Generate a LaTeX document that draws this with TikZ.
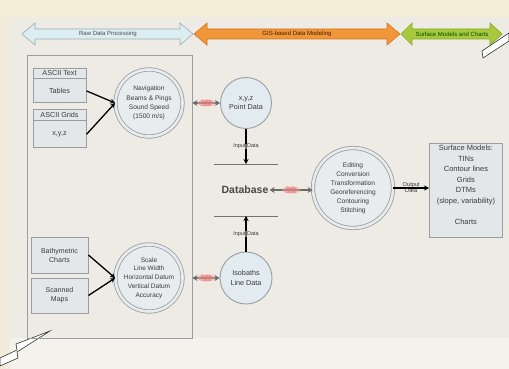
\documentclass[tikz,border=0pt]{standalone}
\usepackage{fontspec}
\setmainfont{Liberation Sans}
\usetikzlibrary{arrows.meta,shapes.geometric,calc}
\definecolor{bgmain}{HTML}{EDEBE3}
\definecolor{bgtop}{HTML}{F6EDD6}
\definecolor{bgbot}{HTML}{F3F2EC}
\definecolor{boxfill}{HTML}{E3E7EA}
\definecolor{boxline}{HTML}{9A9EA2}
\definecolor{circfill}{HTML}{E8ECEE}
\definecolor{ptfill}{HTML}{E2EBEF}
\definecolor{arblue}{HTML}{DCEEF2}
\definecolor{arblueline}{HTML}{98AEB4}
\definecolor{arorange}{HTML}{F2963A}
\definecolor{arorangeline}{HTML}{D27424}
\definecolor{argreen}{HTML}{A8C93C}
\definecolor{argreenline}{HTML}{86A828}
\definecolor{qcpink}{HTML}{EE9A9A}
\definecolor{txt}{HTML}{3A3A3A}
\tikzset{
  smalltxt/.style={font=\fontsize{6.6}{9}\selectfont, text=txt, align=center},
  databox/.style={draw=boxline, fill=boxfill, line width=0.9pt, smalltxt, font=\fontsize{7.2}{9}\selectfont, inner sep=0pt},
  dcirc/.style={circle, draw=boxline, line width=0.8pt, double=circfill, double distance=2.6pt, fill=circfill, inner sep=0pt, smalltxt},
  scirc/.style={circle, draw=boxline, line width=0.9pt, fill=ptfill, inner sep=0pt, smalltxt, font=\fontsize{7.2}{9.4}\selectfont},
  blkarrow/.style={draw=black, line width=1.3pt, -{Stealth[length=5pt,width=5pt]}},
  qcarrow/.style={draw=gray!85!black, line width=2.2pt, {Stealth[length=5pt,width=6pt]}-{Stealth[length=5pt,width=6pt]}},
  qclabel/.style={font=\fontsize{3.4}{3.7}\selectfont, text=red!70!white, align=center, inner sep=0pt},
  edgelbl/.style={font=\fontsize{5.5}{6.5}\selectfont, text=txt, align=center, inner sep=0.5pt},
  toptxt/.style={font=\fontsize{6}{7}\selectfont, inner sep=0pt},
}
\begin{document}
\begin{tikzpicture}[x=1pt,y=-1pt]
\useasboundingbox (0,0) rectangle (509,369);
% background
\fill[bgmain] (0,0) rectangle (509,369);
\fill[bgtop] (0,0) rectangle (509,17);
\fill[bgtop!60!bgmain] (0,17) rectangle (10,369);
\fill[bgbot] (10,338) rectangle (509,369);

% top phase arrows
\filldraw[fill=arblue, draw=arblueline, line width=0.6pt]
  (22,34) -- (35,23) -- (35,29) -- (180,29) -- (180,23) -- (193,34) -- (180,45) -- (180,39) -- (35,39) -- (35,45) -- cycle;
\filldraw[fill=arorange, draw=arorangeline, line width=0.6pt]
  (194,34) -- (207,23) -- (207,29) -- (387,29) -- (387,23) -- (400,34) -- (387,45) -- (387,39) -- (207,39) -- (207,45) -- cycle;
\filldraw[fill=argreen, draw=argreenline, line width=0.6pt]
  (401,34) -- (412,23) -- (412,29) -- (490,29) -- (490,23) -- (502,34) -- (490,45) -- (490,39) -- (412,39) -- (412,45) -- cycle;
\node[toptxt, text=black!70] (ph1) at (108,34) {Raw Data Processing};
\node[toptxt, text=black!75!orange] (ph2) at (297,34) {GIS-based Data Modeling};
\node[toptxt, text=black!70!green] (ph3) at (452,34) {Surface Models and Charts};

% lightning arrows
\filldraw[fill=white, draw=black!80, line width=0.6pt]
  (482,51) -- (509,33) -- (509,41) -- (483,58) -- cycle;
\filldraw[fill=white, draw=black!80, line width=0.6pt]
  (50,331) -- (16,344) -- (17,350) -- (0,358) -- (0,366) -- (18,358) -- (17,352) -- cycle;

% raw data panel
\node[draw=boxline, line width=0.8pt, minimum width=165pt, minimum height=283pt, inner sep=0pt] (panel) at (109.5,196.5) {};

% ASCII boxes
\node[databox, minimum width=53pt, minimum height=10pt] (ath) at (59.5,73) {ASCII Text};
\node[databox, minimum width=53pt, minimum height=24pt, anchor=north] (atb) at (ath.south) {Tables};
\node[databox, minimum width=53pt, minimum height=11pt] (agh) at (59.5,114.5) {ASCII Grids};
\node[databox, minimum width=53pt, minimum height=27pt, anchor=north] (agb) at (agh.south) {x,y,z};

\node[databox, minimum width=57pt, minimum height=36pt, font=\fontsize{7}{9}\selectfont] (bath) at (59.5,255) {Bathymetric\\Charts};
\node[databox, minimum width=57pt, minimum height=35pt, font=\fontsize{7}{9}\selectfont] (scan) at (59.5,295.5) {Scanned\\Maps};

% processing circles
\node[dcirc, minimum size=67pt, font=\fontsize{6.6}{9.3}\selectfont] (nav) at (149,103) {Navigation\\Beams \& Pings\\Sound Speed\\(1500 m/s)};
\node[dcirc, minimum size=67pt, font=\fontsize{6.5}{8.7}\selectfont] (scale) at (149,278) {Scale\\Line Width\\Horizontal Datum\\Vertical Datum\\Accuracy};

\draw[blkarrow] (atb.east) -- (nav.west);
\draw[blkarrow] (agb.east) -- (nav.west);
\draw[blkarrow] (bath.east) -- (scale.west);
\draw[blkarrow] (scan.east) -- (scale.west);

% data circles
\node[scirc, minimum size=51pt] (pt) at (246,103) {x,y,z\\Point Data};
\node[scirc, minimum size=52pt] (iso) at (246,278) {Isobaths\\Line Data};

% database
\coordinate (dbtl) at (214,164);
\coordinate (dbtr) at (278,164);
\coordinate (dbbl) at (214,216);
\coordinate (dbbr) at (278,216);
\draw[draw=black!55, line width=0.7pt] (dbtl) -- (dbtr);
\draw[draw=black!55, line width=0.7pt] (dbbl) -- (dbbr);
\node[font=\fontsize{10.5}{12}\selectfont\bfseries, text=black!72, inner sep=1pt] (db) at (245,190) {Database};

\draw[blkarrow] (pt.south) -- (pt.south |- dbtl) node[pos=0.5, edgelbl, fill=bgmain, fill opacity=0.5, text opacity=1] {Input Data};
\draw[blkarrow] (iso.north) -- (iso.north |- dbbl) node[pos=0.5, edgelbl, fill=bgmain, fill opacity=0.5, text opacity=1] {Input Data};

% editing circle
\node[dcirc, minimum size=80pt, font=\fontsize{6.6}{9}\selectfont] (edit) at (353,188) {Editing\\Conversion\\Transformation\\Georeferencing\\Contouring\\Stitching};

% surface box
\node[databox, minimum width=73pt, minimum height=94pt, anchor=north west] (surf) at (429,143)
  {};
\node[smalltxt, font=\fontsize{7.5}{10.5}\selectfont, anchor=north, inner sep=0pt] (surftxt) at ([yshift=-2pt]surf.north)
  {Surface Models:\\TINs\\Contour lines\\Grids\\DTMs\\(slope, variability)\\[10.5pt]Charts};

\draw[blkarrow] (edit.east) -- (surf.west |- edit.east) node[pos=0.5, edgelbl, font=\fontsize{5.7}{6}\selectfont] {Output\\Data};

% quality check arrows
\draw[qcarrow] (panel.east |- nav) -- (pt.west);
\draw[qcarrow] (panel.east |- scale) -- (iso.west);
\draw[qcarrow] (db.east) -- (edit.west |- db.east);
\fill[qcpink, opacity=0.6] ([xshift=14pt]panel.east |- nav) ellipse (9pt and 3.5pt);
\fill[qcpink, opacity=0.6] ([xshift=14pt]panel.east |- scale) ellipse (9pt and 3.5pt);
\fill[qcpink, opacity=0.6] ($(db.east)!0.5!(edit.west |- db.east)$) ellipse (9pt and 3.5pt);
\node[qclabel] (qc1) at ([xshift=14pt]panel.east |- nav) {Quality\\Check};
\node[qclabel] (qc2) at ([xshift=14pt]panel.east |- scale) {Quality\\Check};
\node[qclabel] (qc3) at ($(db.east)!0.5!(edit.west |- db.east)$) {Quality\\Check};
\end{tikzpicture}
\end{document}
